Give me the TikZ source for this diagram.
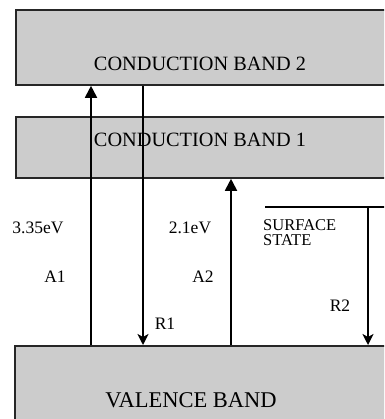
\documentclass[tikz,border=0pt]{standalone}
\usepackage{fontspec}
\setmainfont{Liberation Serif}
\usetikzlibrary{arrows.meta, positioning, backgrounds}

\definecolor{bandgray}{RGB}{204,204,204}

\begin{document}
\begin{tikzpicture}[
            x=1pt, y=-1pt,
            background rectangle/.style={fill=white},
            show background rectangle,
            band/.style={
                draw=black!85,
                line width=1.8pt,
                fill=bandgray,
                inner sep=0pt
            },
            bandlabel/.style={font=\fontsize{20.3}{22}\selectfont, inner sep=0pt},
            lbl/.style={font=\fontsize{17.5}{19}\selectfont, inner sep=0pt},
            absorb/.style={line width=1.8pt, -{Triangle[length=12pt, width=12pt]}},
            recomb/.style={line width=1.8pt, -{Stealth[length=11pt, width=11pt, inset=3pt]}}
        ]

        \useasboundingbox (0,0) rectangle (384,419);
        \clip (0,0) rectangle (384,419);

        % bands
        \node[band, minimum width=390pt, minimum height=75pt, anchor=north west] (cb2) at (15,9) {};
        \node[band, minimum width=390pt, minimum height=61pt, anchor=north west] (cb1) at (15,116) {};
        \node[band, minimum width=390pt, minimum height=90pt, anchor=north west] (vb) at (14,345) {};

        \node[bandlabel] (cb2text) at (200,64) {CONDUCTION BAND 2};
        \node[bandlabel] (cb1text) at (200,140) {CONDUCTION BAND 1};
        \node[font=\fontsize{22.5}{24}\selectfont, inner sep=0pt] (vbtext) at (191,400) {VALENCE BAND};

        % transitions
        \coordinate (a1) at (91,0);
        \coordinate (r1) at (143,0);
        \coordinate (a2) at (231,0);
        \coordinate (r2) at (368,0);

        % surface state level
        \coordinate (ss) at (265,207);
        \coordinate (ssend) at (390,207);
        \draw[line width=1.8pt] (ss) -- (ssend);

        \draw[absorb] (vb.north -| a1) -- (cb2.south -| a1);
        \draw[recomb] (cb2.south -| r1) -- (vb.north -| r1);
        \draw[absorb] (vb.north -| a2) -- (cb1.south -| a2);
        \draw[recomb] (ss -| r2) -- (vb.north -| r2);

        % labels
        \node[lbl] (e1) at (38,228) {3.35eV};
        \node[lbl] (a1text) at (55,277) {A1};
        \node[lbl] (e2) at (190,228) {2.1eV};
        \node[lbl] (a2text) at (203,277) {A2};
        \node[lbl] (r1text) at (165,324) {R1};
        \node[lbl] (r2text) at (340,306) {R2};
        \node[font=\fontsize{16.5}{15}\selectfont, inner sep=0pt, align=left, anchor=west] (sstext) at (263,233) {SURFACE\\STATE};

    \end{tikzpicture}
\end{document}
